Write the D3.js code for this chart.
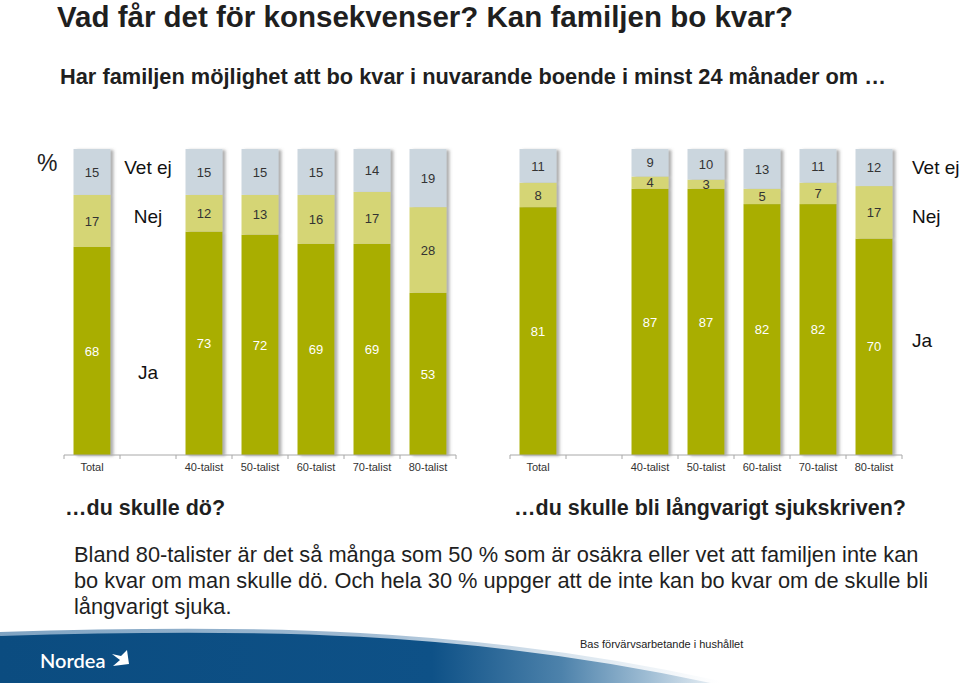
<!DOCTYPE html>
<html><head><meta charset="utf-8">
<script src="https://cdn.jsdelivr.net/npm/d3@7"></script>
<style>
html,body{margin:0;padding:0;background:#fff;}
svg{display:block;font-family:"Liberation Sans",Arial,sans-serif;}
</style></head>
<body>
<svg id="chart" width="960" height="683"></svg>
<script>
// ---- data ----
const categories = ["Total", "", "40-talist", "50-talist", "60-talist", "70-talist", "80-talist"];
const seriesKeys = ["Ja", "Nej", "Vet ej"];
// ...du skulle dö?
const dieJa    = [68, null, 73, 72, 69, 69, 53];
const dieNej   = [17, null, 12, 13, 16, 17, 28];
const dieVetEj = [15, null, 15, 15, 15, 14, 19];
// ...du skulle bli långvarigt sjukskriven?
const sickJa    = [81, null, 87, 87, 82, 82, 70];
const sickNej   = [8,  null, 4,  3,  5,  7,  17];
const sickVetEj = [11, null, 9,  10, 13, 11, 12];

const titleText = "Vad får det för konsekvenser? Kan familjen bo kvar?";
const subtitleText = "Har familjen möjlighet att bo kvar i nuvarande boende i minst 24 månader om …";
const panelTitles = ["…du skulle dö?", "…du skulle bli långvarigt sjukskriven?"];
const paragraph = [
  "Bland 80-talister är det så många som 50 % som är osäkra eller vet att familjen inte kan",
  "bo kvar om man skulle dö. Och hela 30 % uppger att de inte kan bo kvar om de skulle bli",
  "långvarigt sjuka."
];
const footnote = "Bas förvärvsarbetande i hushållet";

const colors = {"Ja": "#a9ae03", "Nej": "#d5d575", "Vet ej": "#cbd6de"};
const labelColors = {"Ja": "#ffffff", "Nej": "#333333", "Vet ej": "#333333"};

// ---- drawing ----
const svg = d3.select("#chart");
const defs = svg.append("defs");

const sh = defs.append("filter").attr("id", "shadow")
  .attr("x", "-20%").attr("y", "-5%").attr("width", "150%").attr("height", "115%");
sh.append("feDropShadow").attr("dx", 3).attr("dy", 1).attr("stdDeviation", 1.6)
  .attr("flood-color", "#6d6d6d").attr("flood-opacity", 0.55);

const grad = defs.append("linearGradient").attr("id", "footGrad")
  .attr("x1", 0).attr("x2", 1).attr("y1", 0).attr("y2", 0);
[[0, "#0b4c80"], [0.6, "#0e5187"], [0.78, "#4d82ab"], [0.9, "#9fbdd4"], [1, "#eef3f7"]]
  .forEach(([o, c]) => grad.append("stop").attr("offset", o).attr("stop-color", c));
const grad2 = defs.append("linearGradient").attr("id", "edgeGrad")
  .attr("x1", 0).attr("x2", 1).attr("y1", 0).attr("y2", 0);
[[0, "#7fa3c2"], [0.5, "#9fbad2"], [0.8, "#dbe6ef"], [1, "#ffffff"]]
  .forEach(([o, c]) => grad2.append("stop").attr("offset", o).attr("stop-color", c));

// titles
svg.append("text").attr("x", 57).attr("y", 27)
  .attr("font-size", 29.5).attr("font-weight", "bold").attr("fill", "#1f1f1f").text(titleText);
svg.append("text").attr("x", 60).attr("y", 84)
  .attr("font-size", 21.8).attr("font-weight", "bold").attr("fill", "#1f1f1f").text(subtitleText);
svg.append("text").attr("x", 37).attr("y", 171)
  .attr("font-size", 23).attr("fill", "#222").text("%");

const y = d3.scaleLinear().domain([0, 1]).range([455, 149]);

function drawPanel(ja, nej, vetej, range, legendSide, legendJaAt) {
  const g = svg.append("g");
  const x = d3.scaleBand().domain(categories).range(range)
    .paddingInner(0.34).paddingOuter(0.17);
  const rows = categories.map((c, i) => ({cat: c, "Ja": ja[i], "Nej": nej[i], "Vet ej": vetej[i]}))
    .filter(r => r["Ja"] != null);
  const stacked = d3.stack().keys(seriesKeys).offset(d3.stackOffsetExpand)(rows);

  // columns with shadow
  const cols = g.selectAll("g.col").data(rows).join("g").attr("class", "col")
    .attr("filter", "url(#shadow)");
  cols.each(function(r) {
    const cg = d3.select(this);
    stacked.forEach(s => {
      const d = s.find(p => p.data.cat === r.cat);
      cg.append("rect").attr("x", x(r.cat)).attr("width", x.bandwidth())
        .attr("y", y(d[1])).attr("height", y(d[0]) - y(d[1]))
        .attr("fill", colors[s.key]);
    });
  });
  // value labels
  stacked.forEach(s => {
    g.selectAll(null).data(s).join("text")
      .attr("x", d => x(d.data.cat) + x.bandwidth() / 2)
      .attr("y", d => (y(d[0]) + y(d[1])) / 2)
      .attr("dy", "0.36em").attr("text-anchor", "middle")
      .attr("font-size", 13).attr("fill", labelColors[s.key])
      .text(d => d.data[s.key]);
  });

  // axis
  const y0 = y(0);
  g.append("line").attr("x1", range[0]).attr("x2", range[1]).attr("y1", y0).attr("y2", y0)
    .attr("stroke", "#a8a8a8").attr("stroke-width", 1);
  const bounds = d3.range(categories.length + 1).map(i => range[0] + i * x.step());
  g.selectAll(null).data(bounds).join("line")
    .attr("x1", d => d).attr("x2", d => d).attr("y1", y0).attr("y2", y0 + 4)
    .attr("stroke", "#a8a8a8");
  g.selectAll(null).data(categories).join("text")
    .attr("x", d => x(d) + x.bandwidth() / 2).attr("y", y0 + 16)
    .attr("text-anchor", "middle").attr("font-size", 11).attr("fill", "#333").text(d => d);

  // series legend
  let lx, anchor;
  if (legendSide === "inside") { lx = x(categories[1]) + x.bandwidth() / 2; anchor = "middle"; }
  else { lx = range[1] + 10; anchor = "start"; }
  const leg = [["Vet ej", 0.94], ["Nej", 0.78], ["Ja", legendJaAt]];
  g.selectAll(null).data(leg).join("text")
    .attr("x", lx).attr("y", d => y(d[1])).attr("dy", "0.36em")
    .attr("text-anchor", anchor).attr("font-size", 19).attr("fill", "#111")
    .text(d => d[0]);
  return x;
}

drawPanel(dieJa, dieNej, dieVetEj, [64, 456], "inside", 0.27);
drawPanel(sickJa, sickNej, sickVetEj, [510, 902], "right", 0.375);

// panel titles
svg.append("text").attr("x", 65).attr("y", 515).attr("font-size", 21.5)
  .attr("font-weight", "bold").attr("fill", "#1f1f1f").text(panelTitles[0]);
svg.append("text").attr("x", 514).attr("y", 515).attr("font-size", 21.5)
  .attr("font-weight", "bold").attr("fill", "#1f1f1f").text(panelTitles[1]);

// paragraph
svg.append("g").selectAll("text").data(paragraph).join("text")
  .attr("x", 74).attr("y", (d, i) => 562 + i * 26)
  .attr("font-size", 21.8).attr("fill", "#1f1f1f").text(d => d);

// footer swoosh
svg.append("path").attr("d", "M0,634 C250,626 470,628 720,683 L0,683 Z").attr("fill", "url(#footGrad)");
svg.append("path").attr("d", "M0,634 C250,626 470,628 720,683")
  .attr("fill", "none").attr("stroke", "url(#edgeGrad)").attr("stroke-width", 4);
svg.append("text").attr("x", 40).attr("y", 668).attr("font-size", 20)
  .attr("font-family", "Lato, 'Open Sans', sans-serif").attr("font-weight", 600)
  .attr("fill", "#fff").text("Nordea");
svg.append("path").attr("d", "M112,654 L120,660 L113,666 L129,664 L127,650 L121,656 Z")
  .attr("fill", "#fff");
svg.append("text").attr("x", 580).attr("y", 648).attr("font-size", 11)
  .attr("fill", "#222").text(footnote);
</script>
</body></html>
